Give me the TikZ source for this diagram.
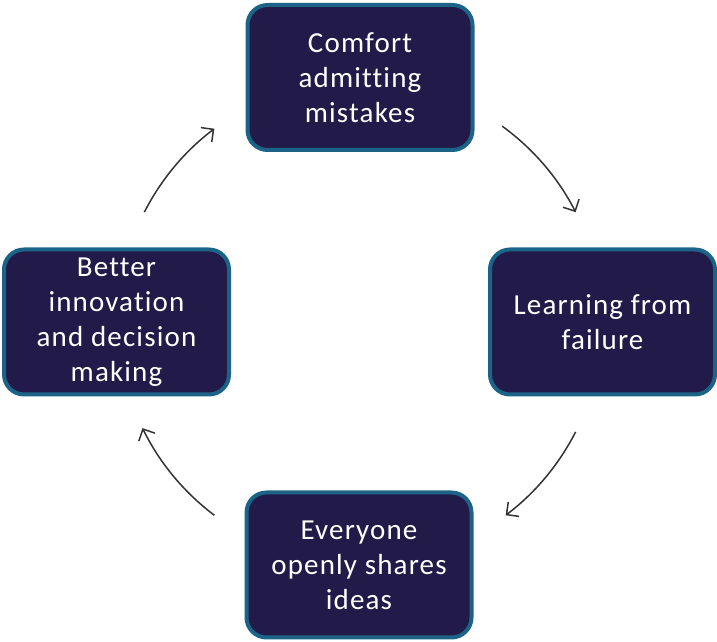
\documentclass[tikz,border=0pt]{standalone}
\usepackage{fontspec}
\setmainfont{Carlito}[Ligatures=NoCommon, LetterSpace=4]
\usetikzlibrary{arrows.meta, calc}
\definecolor{boxfill}{HTML}{221A48}
\definecolor{boxline}{HTML}{1B6487}
\definecolor{arcline}{HTML}{333333}

\begin{document}
\begin{tikzpicture}[x=1pt, y=1pt]
\tikzstyle{every node}=[font=\fontsize{29}{35}\selectfont, text=white, align=center]
\tikzstyle{stagebox}=[draw=boxline, fill=boxfill, line width=4pt, rounded corners=20pt, minimum width=225pt, minimum height=145pt]
\tikzstyle{cyclearc}=[draw=arcline, line width=1.5pt, -{Straight Barb[length=9pt, width=18pt, line width=1.5pt]}]

\useasboundingbox (0, 0) rectangle (717, 642);

\coordinate (hub) at (360, 320);

\node[stagebox] (comfort) at (360, 564.5) {Comfort\\admitting\\mistakes};
\node[stagebox] (learning) at (602.5, 320) {Learning from\\failure};
\node[stagebox] (sharing) at (359, 77) {Everyone\\openly shares\\ideas};
\node[stagebox] (better) at (116.5, 320) {Better\\innovation\\and decision\\making};

\draw[cyclearc] ($(hub)+(54:242)$) arc[start angle=54, end angle=27, radius=242]; % comfort -> learning
\draw[cyclearc] ($(hub)+(-27:242)$) arc[start angle=-27, end angle=-53, radius=242]; % learning -> sharing
\draw[cyclearc] ($(hub)+(233:242)$) arc[start angle=233, end angle=206, radius=242]; % sharing -> better
\draw[cyclearc] ($(hub)+(153:242)$) arc[start angle=153, end angle=127, radius=242]; % better -> comfort

\end{tikzpicture}
\end{document}
